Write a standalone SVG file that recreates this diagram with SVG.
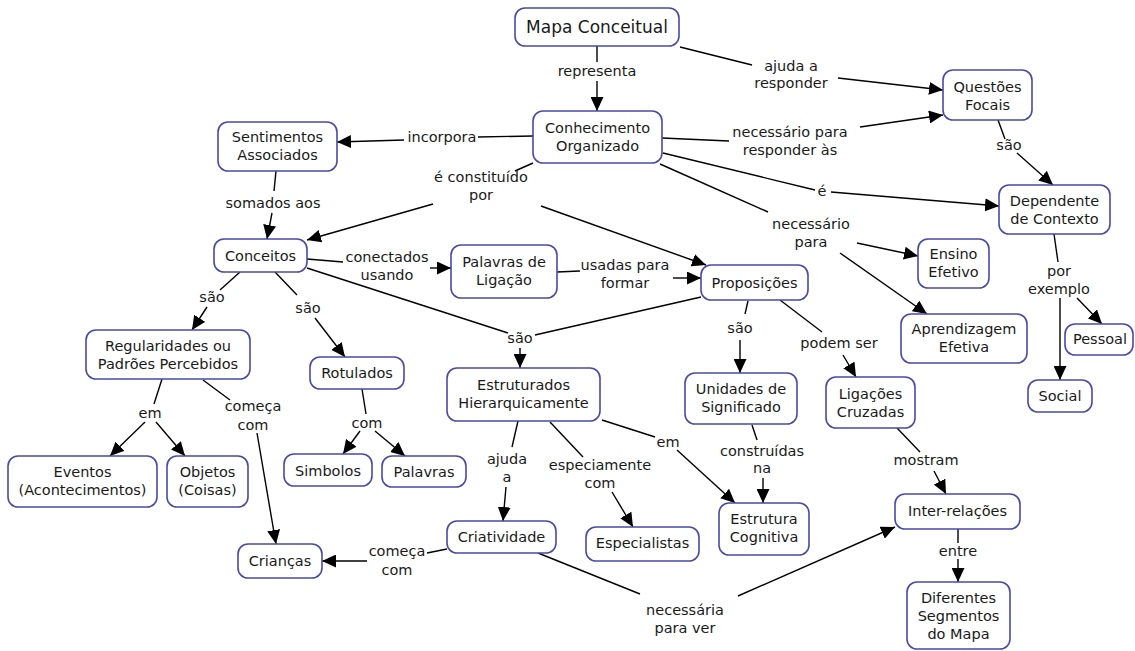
<svg xmlns="http://www.w3.org/2000/svg" width="1135" height="651" viewBox="0 0 1135 651">
<defs>
<marker id="ah" markerUnits="userSpaceOnUse" markerWidth="15" markerHeight="13" refX="14" refY="6.5" orient="auto">
<path d="M0,0 L14,6.5 L0,13 z" fill="#000"/>
</marker>
<style>
.n rect{fill:#fff;stroke:#4a4aa6;stroke-width:1.6}
.n text{font-family:"DejaVu Sans",Verdana,sans-serif;font-size:14.5px;fill:#1a1a1a;text-anchor:middle}
.lbl text{font-family:"DejaVu Sans",Verdana,sans-serif;font-size:14.5px;fill:#1a1a1a;text-anchor:middle}
.c path{fill:none;stroke:#000;stroke-width:1.4}
.c path.a{marker-end:url(#ah)}
</style>
</defs>
<rect width="1135" height="651" fill="#fff"/>
<g id="connectors" class="c">
<path d="M597,46 L597,62"/><path class="a" d="M597,81 L597,111"/>
<path d="M680,47 L752,65"/><path class="a" d="M838,78 L943,90"/>
<path d="M533,136 L478,137"/><path class="a" d="M404,140 L337,142"/>
<path d="M662,138 L729,141"/><path class="a" d="M860,127 L943,115"/>
<path d="M663,153 L815,190"/><path class="a" d="M831,192 L999,206"/>
<path d="M660,164 L768,212"/><path class="a" d="M857,243 L918,256"/><path class="a" d="M840,253 L927,314"/>
<path d="M533,163 L515,171"/><path class="a" d="M433,204 L307,240"/><path class="a" d="M541,206 L706,265"/>
<path d="M276,171 L274,191"/><path class="a" d="M272,213 L267,239"/>
<path d="M307,259 L343,262"/><path class="a" d="M430,268 L451,268"/>
<path d="M557,272 L580,271"/><path class="a" d="M673,278 L701,278"/>
<path d="M240,272 L220,290"/><path class="a" d="M207,307 L192,330"/>
<path d="M275,272 L297,295"/><path class="a" d="M315,318 L345,357"/>
<path d="M307,268 L508,333"/><path d="M701,297 L535,335"/><path class="a" d="M520,348 L520,368"/>
<path d="M748,301 L745,314"/><path class="a" d="M740,340 L740,373"/>
<path d="M780,300 L822,332"/><path class="a" d="M843,355 L856,377"/>
<path d="M998,120 L1005,139"/><path class="a" d="M1017,153 L1053,185"/>
<path d="M1054,234 L1058,262"/><path class="a" d="M1060,298 L1060,380"/><path class="a" d="M1077,298 L1102,324"/>
<path d="M162,379 L154,404"/><path class="a" d="M145,422 L110,456"/><path class="a" d="M156,422 L185,456"/>
<path d="M203,380 L230,400"/><path class="a" d="M257,433 L276,544"/>
<path d="M362,389 L366,414"/><path class="a" d="M360,431 L343,454"/><path class="a" d="M375,431 L405,456"/>
<path d="M447,549 L427,553"/><path class="a" d="M367,561 L322,561"/>
<path d="M538,553 L640,594"/><path class="a" d="M738,596 L895,527"/>
<path d="M518,421 L512,447"/><path class="a" d="M506,487 L503,521"/>
<path d="M550,422 L583,457"/><path class="a" d="M612,492 L633,527"/>
<path d="M602,420 L655,437"/><path class="a" d="M677,450 L735,503"/>
<path d="M752,425 L757,440"/><path class="a" d="M763,478 L763,503"/>
<path d="M897,428 L920,452"/><path class="a" d="M934,471 L946,494"/>
<path d="M958,529 L958,543"/><path class="a" d="M958,559 L958,582"/>
</g>
<g id="labels" class="lbl">
<text x="597" y="76">representa</text>
<text x="791" y="71">ajuda a</text><text x="791" y="88">responder</text>
<text x="442" y="142">incorpora</text>
<text x="790" y="137">necessário para</text><text x="790" y="155">responder às</text>
<text x="822" y="196">é</text>
<text x="811" y="229">necessário</text><text x="811" y="247">para</text>
<text x="481" y="182">é constituído</text><text x="481" y="200">por</text>
<text x="273" y="208">somados aos</text>
<text x="387" y="262">conectados</text><text x="387" y="280">usando</text>
<text x="625" y="270">usadas para</text><text x="625" y="288">formar</text>
<text x="212" y="302">são</text>
<text x="308" y="313">são</text>
<text x="520" y="343">são</text>
<text x="740" y="333">são</text>
<text x="839" y="348">podem ser</text>
<text x="1009" y="150">são</text>
<text x="1059" y="276">por</text><text x="1059" y="294">exemplo</text>
<text x="150" y="418">em</text>
<text x="253" y="411">começa</text><text x="253" y="430">com</text>
<text x="367" y="428">com</text>
<text x="397" y="556">começa</text><text x="397" y="575">com</text>
<text x="685" y="615">necessária</text><text x="685" y="633">para ver</text>
<text x="507" y="464">ajuda</text><text x="507" y="482">a</text>
<text x="600" y="470">especiamente</text><text x="600" y="488">com</text>
<text x="668" y="447">em</text>
<text x="762" y="456">construídas</text><text x="762" y="473">na</text>
<text x="926" y="465">mostram</text>
<text x="958" y="556">entre</text>
</g>
<g id="mapa" class="n"><rect x="515" y="8" width="164" height="38" rx="10"/><text x="597" y="33" style="font-size:17px">Mapa Conceitual</text></g>
<g id="conhecimento" class="n"><rect x="533" y="111" width="129" height="52" rx="10"/><text x="597.5" y="133">Conhecimento</text><text x="597.5" y="151">Organizado</text></g>
<g id="sentimentos" class="n"><rect x="218" y="122" width="119" height="49" rx="10"/><text x="277.5" y="142">Sentimentos</text><text x="277.5" y="160">Associados</text></g>
<g id="questoes" class="n"><rect x="943" y="70" width="89" height="50" rx="10"/><text x="987.5" y="92">Questões</text><text x="987.5" y="110">Focais</text></g>
<g id="dependente" class="n"><rect x="999" y="185" width="111" height="49" rx="10"/><text x="1054.5" y="206">Dependente</text><text x="1054.5" y="224">de Contexto</text></g>
<g id="conceitos" class="n"><rect x="214" y="239" width="93" height="33" rx="10"/><text x="260.5" y="261">Conceitos</text></g>
<g id="palavras-ligacao" class="n"><rect x="451" y="245" width="106" height="53" rx="10"/><text x="504" y="267">Palavras de</text><text x="504" y="285">Ligação</text></g>
<g id="proposicoes" class="n"><rect x="701" y="265" width="107" height="35" rx="10"/><text x="754.5" y="288">Proposições</text></g>
<g id="ensino" class="n"><rect x="918" y="239" width="71" height="49" rx="10"/><text x="953.5" y="259">Ensino</text><text x="953.5" y="277">Efetivo</text></g>
<g id="aprendizagem" class="n"><rect x="901" y="314" width="126" height="49" rx="10"/><text x="964" y="334">Aprendizagem</text><text x="964" y="352">Efetiva</text></g>
<g id="pessoal" class="n"><rect x="1065" y="324" width="68" height="31" rx="10"/><text x="1100" y="344">Pessoal</text></g>
<g id="social" class="n"><rect x="1028" y="380" width="64" height="32" rx="10"/><text x="1060" y="401">Social</text></g>
<g id="regularidades" class="n"><rect x="86" y="330" width="164" height="49" rx="10"/><text x="168" y="351">Regularidades ou</text><text x="168" y="369">Padrões Percebidos</text></g>
<g id="rotulados" class="n"><rect x="310" y="357" width="94" height="32" rx="10"/><text x="357" y="378">Rotulados</text></g>
<g id="estruturados" class="n"><rect x="447" y="368" width="153" height="53" rx="10"/><text x="523.5" y="390">Estruturados</text><text x="523.5" y="408">Hierarquicamente</text></g>
<g id="unidades" class="n"><rect x="685" y="373" width="112" height="51" rx="10"/><text x="741" y="394">Unidades de</text><text x="741" y="412">Significado</text></g>
<g id="ligacoes" class="n"><rect x="826" y="377" width="89" height="51" rx="10"/><text x="870.5" y="399">Ligações</text><text x="870.5" y="417">Cruzadas</text></g>
<g id="eventos" class="n"><rect x="8" y="456" width="149" height="51" rx="10"/><text x="82.5" y="477">Eventos</text><text x="82.5" y="495">(Acontecimentos)</text></g>
<g id="objetos" class="n"><rect x="167" y="456" width="81" height="51" rx="10"/><text x="207.5" y="477">Objetos</text><text x="207.5" y="495">(Coisas)</text></g>
<g id="simbolos" class="n"><rect x="284" y="454" width="88" height="32" rx="10"/><text x="328" y="476">Simbolos</text></g>
<g id="palavras" class="n"><rect x="382" y="456" width="84" height="31" rx="10"/><text x="424" y="477">Palavras</text></g>
<g id="estrutura-cognitiva" class="n"><rect x="719" y="503" width="90" height="52" rx="10"/><text x="764" y="524">Estrutura</text><text x="764" y="542">Cognitiva</text></g>
<g id="inter-relacoes" class="n"><rect x="895" y="494" width="125" height="35" rx="10"/><text x="957.5" y="516">Inter-relações</text></g>
<g id="criatividade" class="n"><rect x="447" y="521" width="109" height="32" rx="10"/><text x="501.5" y="542">Criatividade</text></g>
<g id="especialistas" class="n"><rect x="586" y="527" width="113" height="34" rx="10"/><text x="642.5" y="548">Especialistas</text></g>
<g id="criancas" class="n"><rect x="238" y="544" width="84" height="34" rx="10"/><text x="280" y="566">Crianças</text></g>
<g id="diferentes" class="n"><rect x="907" y="582" width="103" height="67" rx="10"/><text x="958.5" y="603">Diferentes</text><text x="958.5" y="621">Segmentos</text><text x="958.5" y="639">do Mapa</text></g>
</svg>
